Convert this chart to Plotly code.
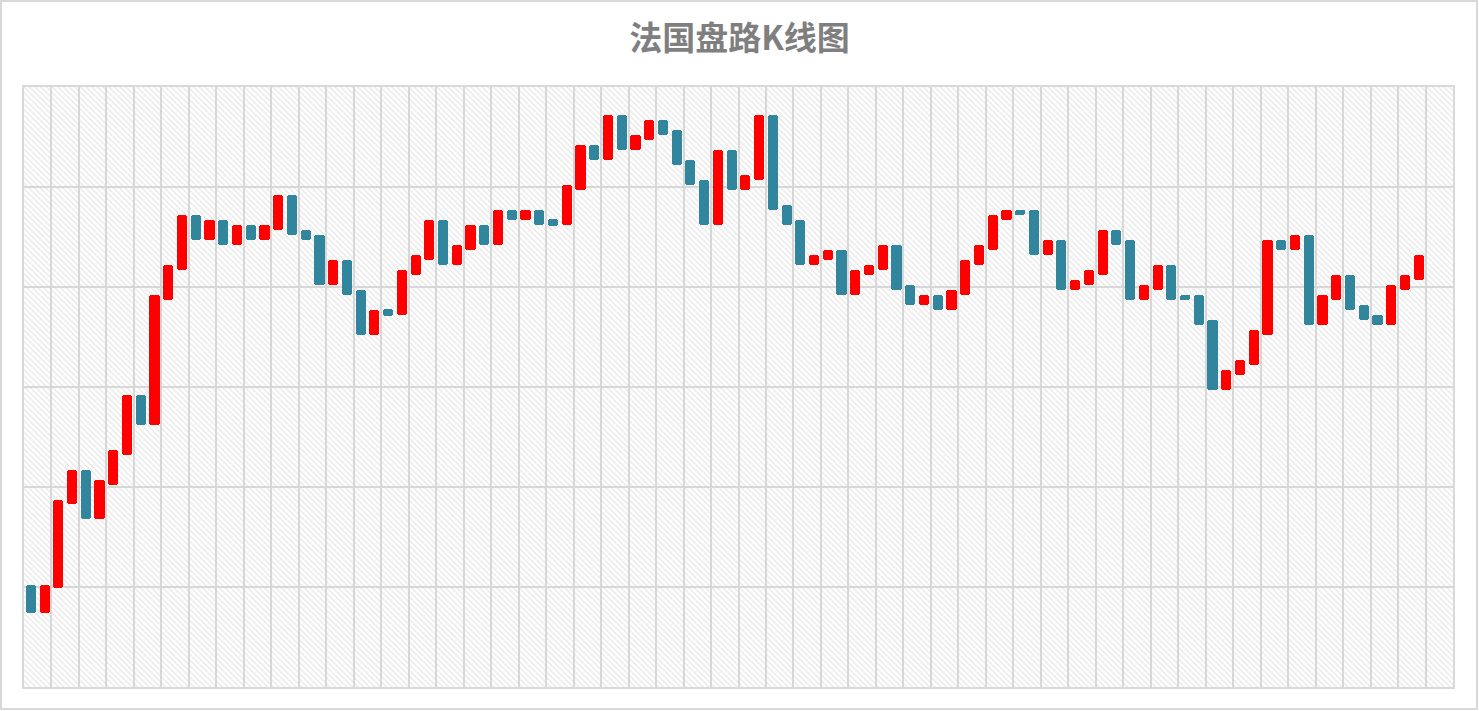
import plotly.graph_objects as go

# ---- data ----
categories = list(range(1, 105))  # 104 category slots on the x axis

opens = [20.4, 14.8, 19.8, 36.7, 43.4, 33.7, 40.4, 46.4, 58.4, 52.4,
         77.4, 83.4, 94.4, 89.4, 93.4, 88.4, 92.4, 89.4, 91.4, 98.4,
         91.4, 90.4, 80.4, 85.4, 79.4, 70.4, 75.6, 74.4, 82.4, 85.4,
         93.4, 84.4, 87.4, 92.4, 88.4, 95.4, 93.5, 95.4, 93.7, 92.4,
         99.4, 108.4, 105.4, 114.4, 107.4, 109.4, 113.4, 111.4, 105.4, 101.4,
         92.4, 107.4, 99.4, 101.5, 114.4, 96.4, 93.4, 84.5, 85.4, 87.4,
         78.5, 82.4, 83.4, 88.4, 80.4, 76.5, 78.4, 75.4, 78.5, 84.5,
         87.4, 93.5, 95.5, 95.4, 86.5, 89.4, 79.5, 80.5, 82.5, 91.4,
         89.4, 77.5, 79.5, 84.4, 78.5, 78.4, 73.4, 59.5, 62.5, 64.5,
         70.5, 89.4, 87.5, 90.4, 72.5, 77.5, 82.4, 76.4, 74.4, 72.5,
         79.5, 81.5]
closes = [14.8, 20.4, 37.4, 43.4, 33.7, 41.4, 47.4, 58.4, 52.4, 78.4,
          84.4, 94.4, 89.4, 93.4, 88.4, 92.4, 89.4, 92.4, 98.4, 90.5,
          89.4, 80.4, 85.4, 78.4, 70.4, 75.4, 74.2, 83.4, 86.4, 93.4,
          84.4, 88.4, 92.4, 88.4, 95.4, 93.5, 95.4, 92.4, 92.2, 100.4,
          108.4, 105.4, 114.4, 107.4, 110.4, 113.4, 110.4, 104.4, 100.4, 92.4,
          107.4, 99.4, 102.4, 114.4, 95.5, 92.5, 84.5, 86.4, 87.4, 78.5,
          83.4, 84.4, 88.4, 79.5, 76.5, 78.4, 75.4, 79.4, 85.4, 88.4,
          94.4, 95.4, 94.4, 86.5, 89.4, 79.5, 81.4, 83.4, 91.4, 88.5,
          77.5, 80.4, 84.4, 77.5, 77.4, 72.5, 59.5, 63.4, 65.4, 71.4,
          89.4, 87.5, 90.4, 72.5, 78.4, 82.4, 75.5, 73.5, 72.5, 80.4,
          82.4, 86.4]

title_text = "法国盘路K线图"
y_min, y_max, y_step = 0, 120, 20

UP_COLOR = "#FF0000"
DOWN_COLOR = "#31859C"
GRID = "#D9D9D9"

n = len(opens)
xs = categories[:n]
bases = [min(o, c) for o, c in zip(opens, closes)]
heights = [abs(c - o) for o, c in zip(opens, closes)]
colors = [UP_COLOR if c >= o else DOWN_COLOR for o, c in zip(opens, closes)]

fig = go.Figure()

# hatched plot background
fig.add_trace(go.Bar(
    x=[(categories[0] + categories[-1]) / 2], y=[y_max - y_min], base=[y_min],
    width=[len(categories)],
    marker=dict(color="rgba(0,0,0,0)", line=dict(width=0),
                pattern=dict(shape="\\", fgcolor="#D0D0D0", bgcolor="rgba(0,0,0,0)",
                             size=4, solidity=0.35)),
    hoverinfo="skip", showlegend=False,
))

# up/down bars
fig.add_trace(go.Bar(
    x=xs, y=heights, base=bases, width=0.74,
    marker=dict(color=colors, line=dict(width=0), cornerradius=3),
    customdata=list(zip(opens, closes)),
    hovertemplate="开盘 %{customdata[0]}<br>收盘 %{customdata[1]}<extra></extra>",
    showlegend=False,
))

W, H = 1479, 711
ml, mr, mt, mb = 24, 26, 87, 24
pw, ph = W - ml - mr, H - mt - mb

fig.update_layout(
    width=W, height=H,
    margin=dict(l=ml, r=mr, t=mt, b=mb, pad=0),
    paper_bgcolor="white", plot_bgcolor="white",
    barmode="overlay", bargap=0,
    title=dict(text=f"<b>{title_text}</b>", x=0.5, xanchor="center",
               y=1 - 38 / H, yanchor="middle",
               font=dict(family="Noto Sans CJK SC", size=33, color="#7F7F7F")),
    xaxis=dict(range=[categories[0] - 0.5, categories[-1] + 0.5],
               tick0=categories[0] - 0.5, dtick=2,
               showgrid=True, gridcolor=GRID, gridwidth=2,
               showticklabels=False, ticks="", zeroline=False,
               showline=True, mirror=True, linecolor=GRID, linewidth=2),
    yaxis=dict(range=[y_min, y_max], dtick=y_step,
               showgrid=True, gridcolor=GRID, gridwidth=2,
               showticklabels=False, ticks="", zeroline=False,
               showline=True, mirror=True, linecolor=GRID, linewidth=2),
    shapes=[dict(type="rect", xref="paper", yref="paper",
                 x0=-(ml - 1) / pw, x1=1 + (mr - 2) / pw,
                 y0=-(mb - 2) / ph, y1=1 + (mt - 1) / ph,
                 line=dict(color=GRID, width=2), fillcolor="rgba(0,0,0,0)",
                 layer="below")],
)

fig.write_html("out.html", config={"displayModeBar": False},
               post_script="document.body.style.margin='0';document.body.style.overflow='hidden';")
